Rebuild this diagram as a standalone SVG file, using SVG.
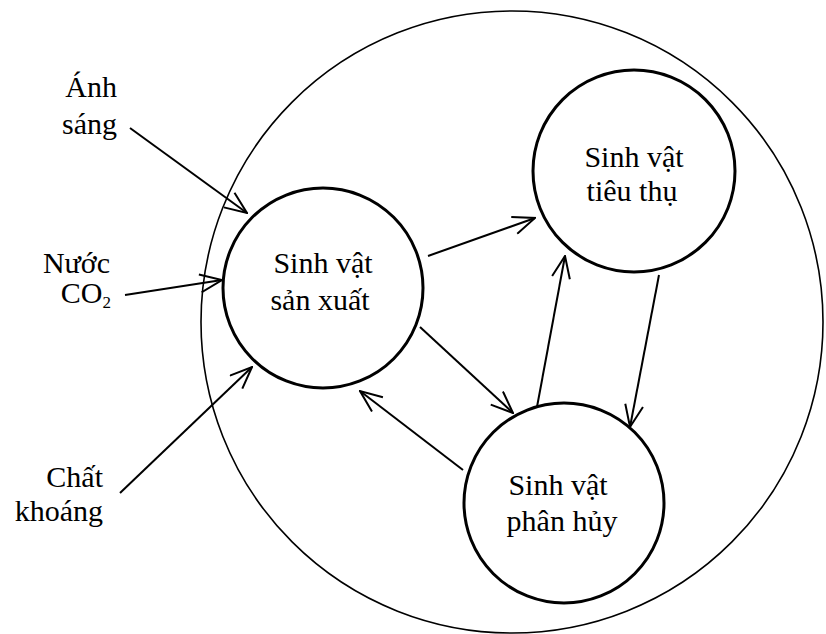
<svg xmlns="http://www.w3.org/2000/svg" width="826" height="634" viewBox="0 0 826 634">
<style>
.t{font-family:"Liberation Serif","Times New Roman",serif;font-size:30px;fill:#000}
.node{fill:none;stroke:#000;stroke-width:3}
.c{stroke:#000;stroke-width:2;fill:none}
</style>
<defs>
<marker id="a" viewBox="0 0 24 20" refX="23" refY="10" markerWidth="24" markerHeight="20" markerUnits="userSpaceOnUse" orient="auto">
<path d="M1,1 L23,10 L1,19" fill="none" stroke="#000" stroke-width="2"/>
</marker>
</defs>
<rect width="826" height="634" fill="#fff"/>
<g id="ecosystem"><circle cx="512" cy="322" r="311" fill="none" stroke="#000" stroke-width="1.6"/></g>
<g id="producer"><circle class="node" cx="323" cy="288" r="100"/>
<text class="t" x="323" y="273" text-anchor="middle">Sinh vật</text>
<text class="t" x="320" y="310" text-anchor="middle">sản xuất</text></g>
<g id="consumer"><circle class="node" cx="634" cy="171" r="101"/>
<text class="t" x="634" y="167" text-anchor="middle">Sinh vật</text>
<text class="t" x="632" y="201" text-anchor="middle">tiêu thụ</text></g>
<g id="decomposer"><circle class="node" cx="564" cy="503" r="100"/>
<text class="t" x="558" y="495" text-anchor="middle">Sinh vật</text>
<text class="t" x="562" y="531" text-anchor="middle">phân hủy</text></g>
<g id="light"><text class="t" x="117" y="97" text-anchor="end">Ánh</text><text class="t" x="117" y="134" text-anchor="end">sáng</text></g>
<g id="water"><text class="t" x="110" y="273" text-anchor="end">Nước</text><text class="t" x="111" y="303" text-anchor="end">CO<tspan font-size="17" dy="5">2</tspan></text></g>
<g id="minerals"><text class="t" x="103" y="487" text-anchor="end">Chất</text><text class="t" x="103" y="521" text-anchor="end">khoáng</text></g>
<g id="connectors" class="c">
<line x1="130" y1="128" x2="247" y2="213" marker-end="url(#a)"/>
<line x1="125" y1="295" x2="222" y2="280" marker-end="url(#a)"/>
<line x1="120" y1="493" x2="252" y2="367" marker-end="url(#a)"/>
<line x1="428" y1="256" x2="535" y2="218" marker-end="url(#a)"/>
<line x1="420" y1="327" x2="513" y2="413" marker-end="url(#a)"/>
<line x1="537" y1="407" x2="565" y2="256" marker-end="url(#a)"/>
<line x1="659" y1="275" x2="630" y2="427" marker-end="url(#a)"/>
<line x1="463" y1="470" x2="360" y2="391" marker-end="url(#a)"/>
</g>
</svg>
